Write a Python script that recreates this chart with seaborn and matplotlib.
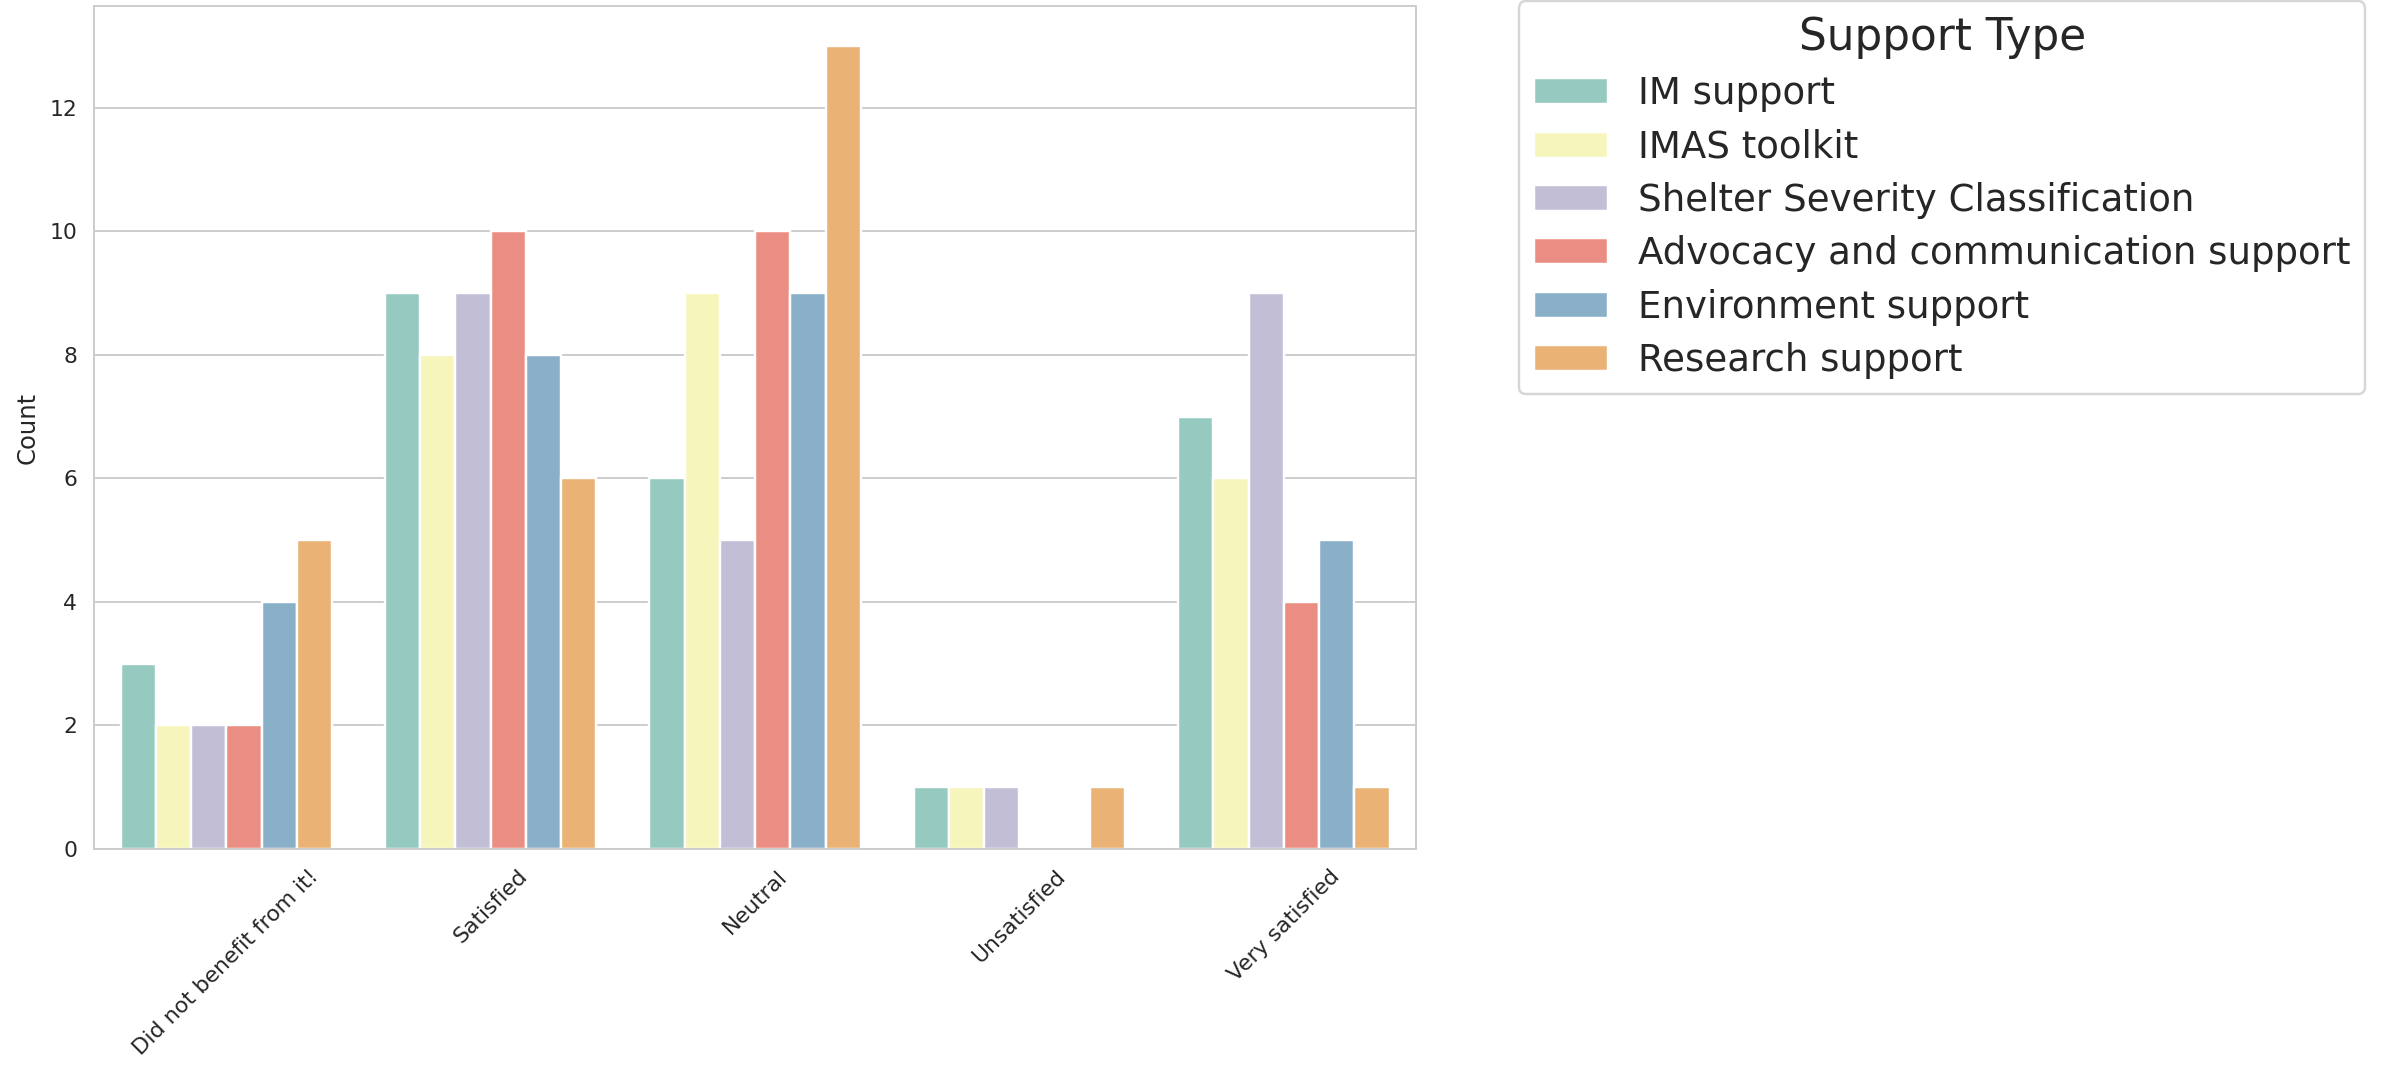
import pandas as pd
import matplotlib
matplotlib.use('Agg')
import matplotlib.pyplot as plt
import seaborn as sns

# Satisfaction levels (x axis) and support types (hue)
levels = ['Did not benefit from it!', 'Satisfied', 'Neutral', 'Unsatisfied', 'Very satisfied']
support_types = ['IM support', 'IMAS toolkit', 'Shelter Severity Classification',
                 'Advocacy and communication support', 'Environment support', 'Research support']

# Counts per support type, in the order of levels
im_support = [3, 9, 6, 1, 7]
imas_toolkit = [2, 8, 9, 1, 6]
shelter_severity = [2, 9, 5, 1, 9]
advocacy = [2, 10, 10, 0, 4]
environment = [4, 8, 9, 0, 5]
research = [5, 6, 13, 1, 1]

counts = [im_support, imas_toolkit, shelter_severity, advocacy, environment, research]
rows = []
for name, vals in zip(support_types, counts):
    for lvl, v in zip(levels, vals):
        rows.append({'Satisfaction': lvl, 'Support Type': name, 'Count': v})
df = pd.DataFrame(rows)

sns.set_style('whitegrid')

dpi = 175
fig = plt.figure(figsize=(2382 / dpi, 1065 / dpi), dpi=dpi)
ax = fig.add_axes([0.0395, 0.2028, 0.555, 0.7916])

sns.barplot(data=df, x='Satisfaction', y='Count', hue='Support Type',
            order=levels, hue_order=support_types, palette='Set3', ax=ax)

ax.set_xlabel('')
ax.set_ylabel('Count', fontsize=10)
ax.tick_params(axis='both', labelsize=9)
plt.setp(ax.get_xticklabels(), rotation=45)

ax.legend(title='Support Type', loc='upper left', bbox_to_anchor=(0.6377, 0.999),
          bbox_transform=fig.transFigure, borderaxespad=0,
          fontsize=15.3, title_fontsize=18, labelspacing=0.44)

fig.savefig('out.png', dpi=dpi)
